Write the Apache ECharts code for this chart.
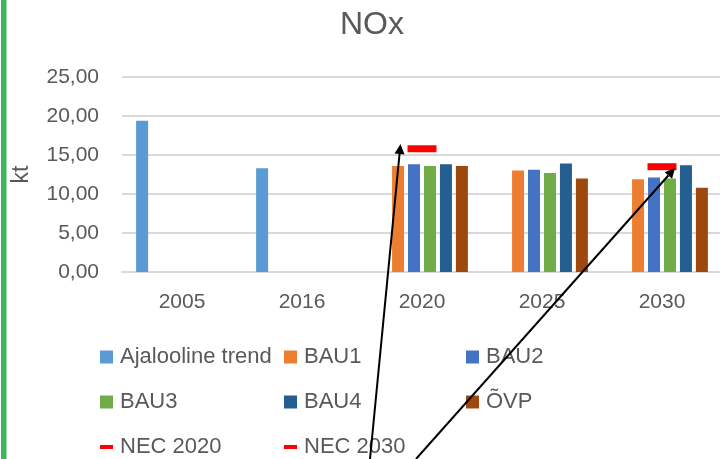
<!DOCTYPE html>
<html>
<head>
<meta charset="utf-8">
<script src="https://cdn.jsdelivr.net/npm/echarts@6/dist/echarts.min.js"></script>
<style>
  html, body { margin: 0; padding: 0; background: #fff; }
  #chart { width: 720px; height: 459px; }
</style>
</head>
<body>
<div id="chart"></div>
<script>
var categories = ['2005', '2016', '2020', '2025', '2030']
var ajalooline = [19.4, 13.3, null, null, null]
var bau1 = [null, null, 13.6, 13.0, 11.9]
var bau2 = [null, null, 13.8, 13.1, 12.1]
var bau3 = [null, null, 13.6, 12.7, 12.0]
var bau4 = [null, null, 13.8, 13.9, 13.7]
var ovp = [null, null, 13.6, 12.0, 10.8]
var nec2020 = [null, null, 15.8, null, null]
var nec2030 = [null, null, null, null, 13.5]

var font = '"Liberation Sans", Arial, sans-serif'
var textColor = '#595959'

function bar(name, data, color) {
  return {
    name: name,
    type: 'bar',
    data: data,
    barWidth: 12,
    barGap: '33%',
    itemStyle: { color: color },
    emphasis: { disabled: true }
  }
}

function nec(name, data) {
  return {
    name: name,
    type: 'line',
    data: data,
    symbol: 'rect',
    symbolSize: [29, 7],
    itemStyle: { color: '#ff0000' },
    lineStyle: { color: '#ff0000' },
    z: 5
  }
}

// hand drawn arrows on the original picture
function arrow(x1, y1, x2, y2) {
  var dx = x2 - x1, dy = y2 - y1
  var len = Math.sqrt(dx * dx + dy * dy)
  var ux = dx / len, uy = dy / len
  var bx = x2 - ux * 10, by = y2 - uy * 10
  return [{
    type: 'line',
    shape: { x1: x1, y1: y1, x2: bx, y2: by },
    style: { stroke: '#000', lineWidth: 2 },
    z: 100
  }, {
    type: 'polygon',
    shape: { points: [[x2, y2], [bx - uy * 5, by + ux * 5], [bx + uy * 5, by - ux * 5]] },
    style: { fill: '#000' },
    z: 100
  }]
}

// legend grid: 3 columns, 3 rows
var legendItems = [
  ['Ajalooline trend', 0, 0, 'rect'], ['BAU1', 1, 0, 'rect'], ['BAU2', 2, 0, 'rect'],
  ['BAU3', 0, 1, 'rect'], ['BAU4', 1, 1, 'rect'], ['ÕVP', 2, 1, 'rect'],
  ['NEC 2020', 0, 2, 'path://M0,0L13,0L13,4L0,4Z'], ['NEC 2030', 1, 2, 'path://M0,0L13,0L13,4L0,4Z']
]
var colX = [100, 284, 466]
var legends = legendItems.map(function (it) {
  return {
    left: colX[it[1]],
    top: 345 + it[2] * 45,
    padding: 0,
    itemWidth: 13,
    itemHeight: 13,
    textStyle: { color: textColor, fontSize: 22, fontFamily: font, lineHeight: 24, padding: [0, 0, 0, 2] },
    data: [{ name: it[0], icon: it[3] }]
  }
})

var chart = echarts.init(document.getElementById('chart'))
chart.setOption({
  animation: false,
  title: {
    text: 'NOx',
    left: 335,
    top: 4,
    textStyle: { color: textColor, fontSize: 32, fontWeight: 'normal', fontFamily: font }
  },
  legend: legends,
  grid: { left: 122, top: 77, width: 600, height: 195, outerBoundsMode: 'none', containLabel: false },
  xAxis: {
    type: 'category',
    data: categories,
    axisTick: { show: false },
    axisLine: { lineStyle: { color: '#d9d9d9', width: 2 } },
    axisLabel: { color: textColor, fontSize: 21, fontFamily: font, margin: 20 }
  },
  yAxis: {
    type: 'value',
    min: 0,
    max: 25,
    interval: 5,
    name: 'kt',
    nameLocation: 'middle',
    nameGap: 89,
    nameTextStyle: { color: textColor, fontSize: 23, fontFamily: font },
    axisLine: { show: false },
    axisTick: { show: false },
    splitLine: { lineStyle: { color: '#d9d9d9', width: 2 } },
    axisLabel: {
      color: textColor, fontSize: 21, fontFamily: font, margin: 23,
      formatter: function (v) { return v.toFixed(2).replace('.', ',') }
    }
  },
  series: [
    bar('Ajalooline trend', ajalooline, '#5b9bd5'),
    bar('BAU1', bau1, '#ed7d31'),
    bar('BAU2', bau2, '#4472c4'),
    bar('BAU3', bau3, '#70ad47'),
    bar('BAU4', bau4, '#255e91'),
    bar('ÕVP', ovp, '#9e480e'),
    nec('NEC 2020', nec2020),
    nec('NEC 2030', nec2030)
  ],
  graphic: [{
    type: 'rect',
    shape: { x: 1, y: 0, width: 5.5, height: 459 },
    style: { fill: '#3cb85c' }
  }].concat(arrow(370, 459, 400.5, 144), arrow(416, 459, 675, 168))
})
</script>
</body>
</html>
